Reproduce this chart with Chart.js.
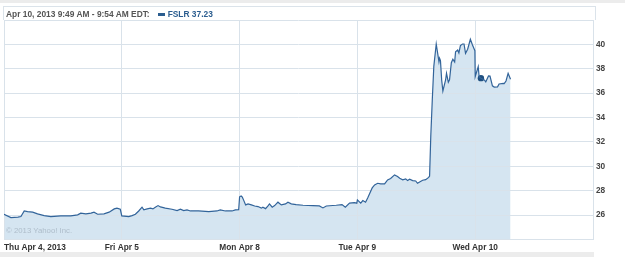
<!DOCTYPE html>
<html>
<head>
<meta charset="utf-8">
<script src="https://cdn.jsdelivr.net/npm/chart.js@4.4.1/dist/chart.umd.min.js"></script>
<style>
  html, body { margin: 0; padding: 0; background: #fff; }
  #wrap { position: relative; width: 625px; height: 257px; overflow: hidden; }
  #chart { position: absolute; left: 0; top: 0; }
  .band { position: absolute; left: 0; width: 625px; background: #ececec; }
  #head {
    position: absolute; left: 3px; top: 6px; width: 589px; height: 13px;
    border: 1px solid #dbe3ea; border-bottom: none;
    font: bold 8.4px "Liberation Sans", Arial, sans-serif; color: #555;
    line-height: 14px; padding-left: 2px; white-space: nowrap;
  }
  #head .sym { color: #2b5d8f; }
  #head .key { display: inline-block; width: 7px; height: 3px; background: #2b5d8f; margin: 0 3px 1px 8px; vertical-align: middle; }
  #copy {
    position: absolute; left: 6px; top: 226px;
    font: 7.8px "Liberation Sans", Arial, sans-serif; color: #aebdca;
  }
</style>
</head>
<body>
<div id="wrap">
  <canvas id="chart" width="625" height="257"></canvas>
  <div class="band" style="top:0;height:3px"></div>
  <div class="band" style="top:252px;height:5px;width:594px"></div>
  <div id="head">Apr 10, 2013 9:49 AM - 9:54 AM EDT:<span class="key"></span><span class="sym">FSLR 37.23</span></div>
  <div id="copy">© 2013 Yahoo! Inc.</div>
</div>
<script>
// trading days on the x axis (one unit per session)
const dayLabels = ['Thu Apr 4, 2013', 'Fri Apr 5', 'Mon Apr 8', 'Tue Apr 9', 'Wed Apr 10', ''];
const yTicks = [24, 26, 28, 30, 32, 34, 36, 38, 40, 42];

// intraday prices
const thuTimes = ['9:30','9:53','10:16','10:26','10:37','10:48','11:05','11:21','11:43','12:05','12:38','13:11','13:34','13:44','14:01','14:18','14:28','14:40','15:01','15:18','15:35','15:44','15:55'];
const thuPrices = [26.07,25.80,25.83,25.88,26.34,26.29,26.24,26.10,25.96,25.88,25.93,25.93,26.02,26.16,26.10,26.16,26.24,26.07,26.10,26.24,26.51,26.57,26.48];

const friTimes = ['9:30','9:53','10:04','10:15','10:26','10:37','10:43','10:54','11:05','11:13','11:21','11:30','11:38','11:54','12:16','12:33','12:44','12:55','13:06','13:17','13:44','14:18','14:45','14:56','15:13','15:35','15:46','15:57'];
const friPrices = [25.93,25.88,25.96,26.07,26.34,26.65,26.43,26.51,26.57,26.51,26.65,26.78,26.67,26.57,26.48,26.37,26.48,26.37,26.43,26.34,26.34,26.29,26.34,26.43,26.34,26.34,26.43,26.45];

const monTimes = ['9:30','9:35','9:39','9:43','9:50','9:58','10:09','10:20','10:31','10:42','10:47','10:56','11:04','11:09','11:18','11:26','11:37','11:48','12:02','12:10','12:21','12:37','13:00','13:33','13:54','14:06','14:17','14:50','15:09','15:20','15:34','15:50','15:58'];
const monPrices = [27.50,27.57,27.47,27.25,26.84,26.92,26.84,26.75,26.70,26.57,26.65,26.53,26.75,26.92,26.65,26.78,27.06,26.84,26.92,27.06,26.92,26.86,26.81,26.78,26.75,26.59,26.75,26.81,26.86,26.65,26.98,27.03,26.98];

const tueTimes = ['9:30','9:41','9:48','9:57','10:04','10:11','10:19','10:27','10:37','10:47','11:00','11:10','11:20','11:33','11:43','11:50','12:00','12:10','12:16','12:23','12:33','12:43','12:49','12:56','13:06','13:16','13:26','13:29','13:33','13:38','13:43','13:51','14:00','14:02','14:05','14:09','14:13','14:22','14:25','14:31','14:35','14:41','14:46','14:52','14:55','15:02','15:06','15:11','15:18','15:23','15:28','15:35','15:44','15:51','15:59'];
const tuePrices = [27.25,26.98,27.19,27.06,27.40,27.80,28.23,28.48,28.61,28.56,28.56,28.89,29.00,29.30,29.17,29.02,28.89,28.97,28.83,28.94,28.83,28.80,28.61,28.72,28.86,28.91,29.09,29.20,32.50,35.50,38.20,40.03,38.58,38.86,38.66,37.08,36.18,37.08,37.63,36.90,37.10,38.50,38.78,38.55,39.40,39.54,39.30,39.90,40.03,40.03,39.27,39.60,40.42,39.95,39.48];

const wedTimes = ['9:30','9:40','9:43','9:49','10:00','10:05','10:14','10:19','10:27','10:33','10:44','10:49','11:03','11:06','11:12','11:19','11:27'];
const wedPrices = [37.35,38.17,37.35,37.23,37.08,36.92,37.41,37.40,36.60,36.50,36.52,36.75,36.80,36.78,37.00,37.63,37.14];

// highlighted point (hover time in the header)
const markerDay = 4, markerTime = '9:49', markerPrice = 37.23;

function toX(day, time) {
  const [h, m] = time.split(':').map(Number);
  return day + (h * 60 + m - 570) / 390;
}

const sessions = [[thuTimes, thuPrices], [friTimes, friPrices], [monTimes, monPrices], [tueTimes, tuePrices], [wedTimes, wedPrices]];
const points = [];
sessions.forEach(function (s, d) {
  s[0].forEach(function (t, i) { points.push({ x: toX(d, t), y: s[1][i] }); });
});

const gridColor = '#d9e2ea';
const tickFont = { family: '"Liberation Sans", Arial, sans-serif', size: 8.3, weight: 'bold' };

new Chart(document.getElementById('chart').getContext('2d'), {
  type: 'line',
  data: {
    datasets: [{
      data: points,
      borderColor: '#32649a',
      borderWidth: 1.2,
      backgroundColor: '#d5e5f1',
      fill: 'start',
      pointRadius: 0,
      tension: 0
    }, {
      data: [{ x: toX(markerDay, markerTime), y: markerPrice }],
      showLine: false,
      pointRadius: 3.2,
      pointBackgroundColor: '#1f4f7f',
      pointBorderWidth: 0
    }]
  },
  options: {
    responsive: false,
    animation: false,
    events: [],
    layout: { padding: { left: 3, top: 20, right: 0, bottom: 3.5 } },
    plugins: {
      legend: { display: false },
      tooltip: { enabled: false },
      filler: { drawTime: 'beforeDraw' }
    },
    scales: {
      x: {
        type: 'linear',
        min: 0,
        max: 5,
        afterBuildTicks: function (scale) {
          scale.ticks = dayLabels.map(function (l, i) { return { value: i }; });
        },
        afterFit: function (scale) { scale.height = 14; },
        grid: { color: gridColor, drawTicks: false },
        border: { color: gridColor },
        ticks: {
          autoSkip: false,
          maxRotation: 0,
          align: 'inner',
          padding: 3,
          color: '#333',
          font: tickFont,
          callback: function (v) { return dayLabels[v]; }
        }
      },
      y: {
        position: 'right',
        min: 24,
        max: 42,
        afterBuildTicks: function (scale) {
          scale.ticks = yTicks.map(function (v) { return { value: v }; });
        },
        afterFit: function (scale) { scale.width = 32; },
        grid: { color: gridColor, drawTicks: false },
        border: { color: gridColor },
        ticks: {
          autoSkip: false,
          padding: 3,
          color: '#444',
          font: tickFont,
          callback: function (v) { return (v === 24 || v === 42) ? '' : v; }
        }
      }
    }
  }
});
</script>
</body>
</html>
